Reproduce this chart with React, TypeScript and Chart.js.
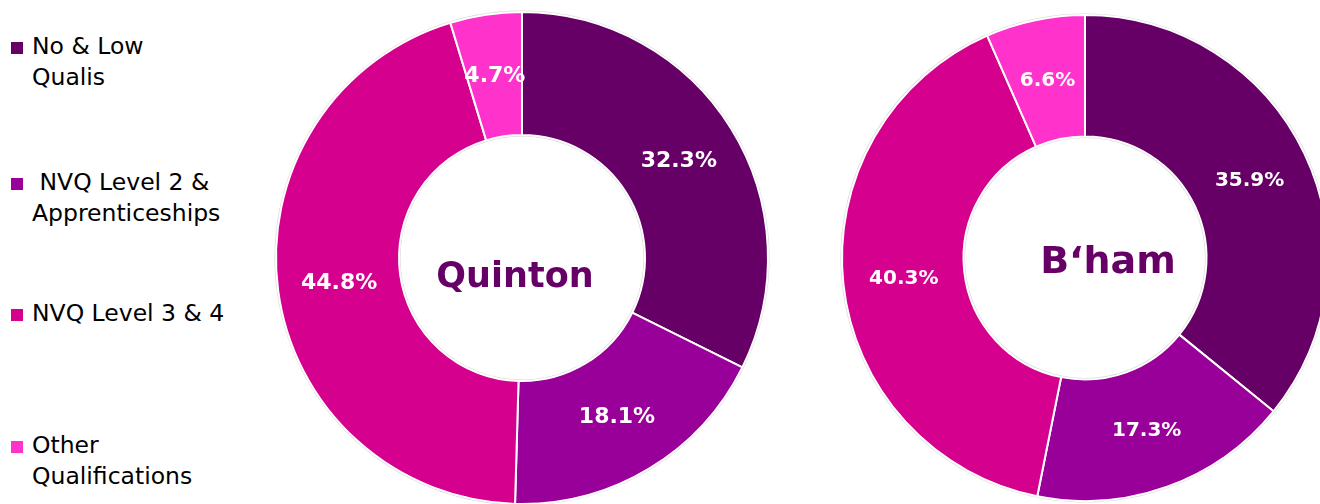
import React, { useEffect, useRef } from "react";
import { Chart, registerables } from "chart.js";

Chart.register(...registerables);

const categories = ["No & Low Qualis", "NVQ Level 2 & Apprenticeships", "NVQ Level 3 & 4", "Other Qualifications"];
const legendLines = [["No & Low", "Qualis"], [" NVQ Level 2 &", "Apprenticeships"], ["NVQ Level 3 & 4"], ["Other", "Qualifications"]];
const quintonValues = [32.3, 18.1, 44.8, 4.7];
const bhamValues = [35.9, 17.3, 40.3, 6.6];
const colors = ["#660066", "#990099", "#D6008F", "#FF33CC"];
const centerColor = "#660066";

const ringPlugin = {
  id: "ringDecor",
  beforeDatasetsDraw(chart: any) {
    const meta = chart.getDatasetMeta(0);
    const arc = meta.data[0];
    if (!arc) return;
    const { x, y, outerRadius, innerRadius } = arc.getProps(["x", "y", "outerRadius", "innerRadius"], true);
    const ctx = chart.ctx;
    ctx.save();
    ctx.strokeStyle = "rgba(0,0,0,0.16)";
    ctx.lineWidth = 2;
    ctx.beginPath();
    ctx.arc(x, y, outerRadius + 0.5, 0, Math.PI * 2);
    ctx.stroke();
    ctx.beginPath();
    ctx.arc(x, y, innerRadius - 0.5, 0, Math.PI * 2);
    ctx.stroke();
    ctx.restore();
  },
  afterDatasetsDraw(chart: any, _args: any, opts: any) {
    const meta = chart.getDatasetMeta(0);
    const ds = chart.data.datasets[0];
    const ctx = chart.ctx;
    ctx.save();
    ctx.fillStyle = "#ffffff";
    ctx.textAlign = "center";
    ctx.textBaseline = "middle";
    ctx.font = `bold ${opts.labelSize}px "DejaVu Sans", Verdana, sans-serif`;
    meta.data.forEach((el: any, i: number) => {
      const p = el.getCenterPoint();
      ctx.fillText(ds.data[i].toFixed(1) + "%", p.x, p.y + 1);
    });
    const arc = meta.data[0];
    if (arc) {
      ctx.fillStyle = centerColor;
      ctx.font = `bold ${opts.centerSize}px "DejaVu Sans", Verdana, sans-serif`;
      ctx.fillText(opts.centerText, arc.x + opts.centerDx, arc.y + opts.centerDy);
    }
    ctx.restore();
  },
};

function Donut(props: { values: number[]; title: string; left: number; pad: any; labelSize: number; centerSize: number; centerDx: number; centerDy: number }) {
  const ref = useRef<HTMLCanvasElement>(null);
  useEffect(() => {
    if (!ref.current) return;
    const chart = new Chart(ref.current, {
      type: "doughnut",
      data: {
        labels: categories,
        datasets: [
          {
            data: props.values,
            backgroundColor: colors,
            borderColor: "#ffffff",
            borderWidth: 2,
          },
        ],
      },
      options: {
        responsive: false,
        animation: false,
        cutout: "50%",
        layout: { padding: props.pad },
        plugins: {
          legend: { display: false },
          tooltip: { enabled: false },
          ringDecor: {
            labelSize: props.labelSize,
            centerSize: props.centerSize,
            centerText: props.title,
            centerDx: props.centerDx,
            centerDy: props.centerDy,
          },
        } as any,
      },
      plugins: [ringPlugin],
    });
    return () => chart.destroy();
  }, []);
  return (
    <canvas
      ref={ref}
      width={520}
      height={520}
      style={{ position: "absolute", left: props.left, top: 0, width: 520, height: 520 }}
    />
  );
}

const legendTops = [31, 167, 298, 430];

export default function App() {
  return (
    <div
      style={{
        position: "fixed",
        left: 0,
        top: 0,
        width: 1320,
        height: 504,
        overflow: "hidden",
        background: "#ffffff",
      }}
    >
      {legendLines.map((lines, i) => (
        <div key={i} style={{ position: "absolute", left: 0, top: legendTops[i] }}>
          <div
            style={{
              position: "absolute",
              left: 11,
              top: 11,
              width: 12,
              height: 12,
              background: colors[i],
            }}
          />
          <div
            style={{
              position: "absolute",
              left: 32,
              top: 0,
              fontFamily: '"DejaVu Sans", Verdana, sans-serif',
              fontSize: 23.5,
              lineHeight: "31px",
              color: "#000000",
              whiteSpace: "pre",
            }}
          >
            {lines.map((t, j) => (
              <div key={j}>{t}</div>
            ))}
          </div>
        </div>
      ))}
      <Donut
        values={quintonValues}
        title="Quinton"
        left={262}
        pad={{ top: 11, bottom: 15, left: 13, right: 13 }}
        labelSize={22}
        centerSize={35}
        centerDx={-7}
        centerDy={20}
      />
      <Donut
        values={bhamValues}
        title="B‘ham"
        left={825}
        pad={{ top: 14, bottom: 18, left: 16, right: 16 }}
        labelSize={20}
        centerSize={38}
        centerDx={23}
        centerDy={5}
      />
    </div>
  );
}
